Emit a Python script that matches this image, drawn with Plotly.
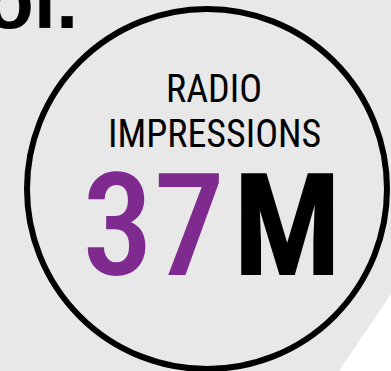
import plotly.graph_objects as go

# content
label_lines = ["RADIO", "IMPRESSIONS"]
value_text = ["37"]
unit_text = ["M"]
header_fragment = ["ol."]

W, H = 391, 371
BG = "#e8e8e8"
PURPLE = "#7f2a8f"
COND = "Roboto Condensed, Liberation Sans Narrow, Arial Narrow, sans-serif"

fig = go.Figure()

cx, cy, r = 207, 189, 180

shapes = [
    dict(type="path", path="M 391 294 L 339 371 L 391 371 Z", fillcolor="white",
         line=dict(width=0), layer="below"),
    dict(type="circle", x0=cx - r, x1=cx + r, y0=cy - r, y1=cy + r,
         line=dict(color="black", width=6), fillcolor="rgba(0,0,0,0)"),
]

ann = []
ann.append(dict(x=214, y=89, text=label_lines[0], showarrow=False, xanchor="center", yanchor="middle",
                font=dict(family=COND, size=38, color="black")))
ann.append(dict(x=214, y=134, text=label_lines[1], showarrow=False, xanchor="center", yanchor="middle",
                font=dict(family=COND, size=38, color="black")))
ann.append(dict(x=227, y=226, text=value_text[0], showarrow=False, xanchor="right", yanchor="middle",
                font=dict(family=COND, size=143, color=PURPLE, weight=500)))
ann.append(dict(x=231, y=226, text=unit_text[0], showarrow=False, xanchor="left", yanchor="middle",
                font=dict(family=COND, size=143, color="black", weight=700)))
ann.append(dict(x=80, y=0, text="<b>" + header_fragment[0] + "</b>", showarrow=False, xanchor="right", yanchor="middle",
                font=dict(family="Liberation Sans, Arial, sans-serif", size=80, color="black")))

fig.update_layout(
    width=W, height=H, margin=dict(l=0, r=0, t=0, b=0),
    paper_bgcolor=BG, plot_bgcolor=BG,
    xaxis=dict(range=[0, W], visible=False, fixedrange=True),
    yaxis=dict(range=[H, 0], visible=False, fixedrange=True),
    shapes=shapes, annotations=ann, showlegend=False,
)
fig.write_html("out.html")
